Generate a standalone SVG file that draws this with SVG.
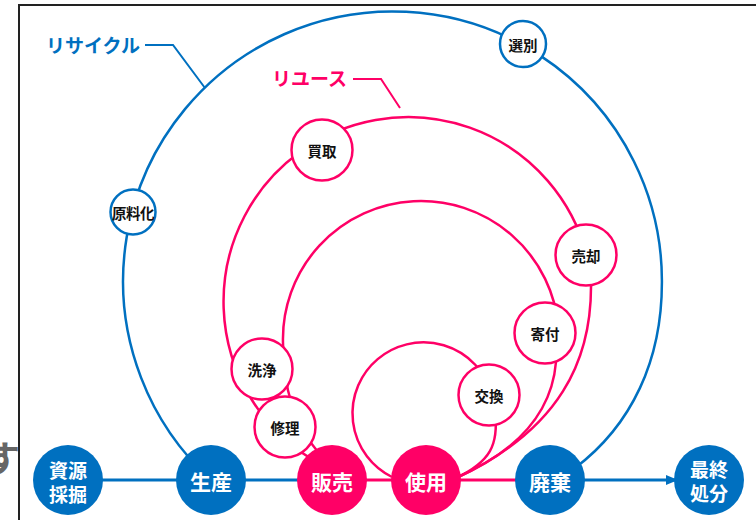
<svg xmlns="http://www.w3.org/2000/svg" width="756" height="520" viewBox="0 0 756 520">
<defs>
<marker id="arr" viewBox="0 0 12 10" markerWidth="12" markerHeight="10" refX="12" refY="5" orient="auto" markerUnits="userSpaceOnUse"><path d="M0,0 L12,5 L0,10 z" fill="#0070c0"/></marker>
</defs>
<style>
.b{fill:none;stroke:#0070c0;stroke-width:2.5}
.p{fill:none;stroke:#ff0066;stroke-width:2.5}
.bl{stroke:#0070c0;stroke-width:3}
.pl{stroke:#ff0066;stroke-width:3}
.nb{fill:#fff;stroke:#0070c0;stroke-width:2.5}
.np{fill:#fff;stroke:#ff0066;stroke-width:2.5}
.fb{fill:#0070c0}
.fp{fill:#ff0066}
text{font-family:"Noto Sans CJK JP","Noto Sans",sans-serif;font-weight:bold;text-anchor:middle;dominant-baseline:central}
.s{font-size:14.5px;fill:#111}
.w{font-size:21px;fill:#fff}
.w2{font-size:19px;fill:#fff}
.lb{font-size:19px;fill:#0070c0;text-anchor:start}
.lp{font-size:19px;fill:#ff0066;text-anchor:start}
</style>
<rect width="756" height="520" fill="#fff"/>
<text x="-16" y="456" style="font-size:36px;fill:#666;text-anchor:start">す</text>
<path d="M19,520 L19,5 L756,5" fill="none" stroke="#222" stroke-width="2"/>

<g id="labels">
<text class="lb" x="46" y="44">リサイクル</text>
<path d="M145,45 L173,45 L205,88" fill="none" stroke="#0070c0" stroke-width="2"/>
<text class="lp" x="272" y="77">リユース</text>
<path d="M353,79 L381,79 L400,108" fill="none" stroke="#ff0066" stroke-width="2"/>
</g>

<g id="connectors">
<path class="b" d="M211,480 A269.4,269.4 0 1 1 661.9,282 C662,360 632,425 575,468"/>
<path class="p" d="M310,458 A184.6,184.6 0 1 1 586.7,254.8"/>
<path class="p" d="M591,283 C592,360 560,430 456,478"/>
<path class="p" d="M318,452 C295,425 283,390 283,343 A138,138 0 0 1 558.5,328"/>
<path class="p" d="M556,362 C552,410 520,450 456,478"/>
<path class="p" d="M392,477 A71,71 0 1 1 491.5,393"/>
<path class="p" d="M495,412 C499,445 490,462 456,478"/>
<line class="bl" x1="68" y1="480" x2="332" y2="480"/>
<line class="pl" x1="332" y1="480" x2="550" y2="480"/>
<line class="bl" x1="550" y1="480" x2="678" y2="480" marker-end="url(#arr)"/>
</g>

<g id="n-genryouka"><circle class="nb" cx="133" cy="212" r="22.5"/><text class="s" x="133" y="212" style="letter-spacing:-0.5px">原料化</text></g>
<g id="n-senbetsu"><circle class="nb" cx="523" cy="44" r="23"/><text class="s" x="523" y="44">選別</text></g>
<g id="n-kaitori"><circle class="np" cx="322" cy="150" r="30.5"/><text class="s" x="322" y="150">買取</text></g>
<g id="n-baikyaku"><circle class="np" cx="586" cy="255" r="30.5"/><text class="s" x="586" y="255">売却</text></g>
<g id="n-kifu"><circle class="np" cx="545" cy="333" r="30.5"/><text class="s" x="545" y="333">寄付</text></g>
<g id="n-koukan"><circle class="np" cx="489" cy="395" r="30.5"/><text class="s" x="489" y="395">交換</text></g>
<g id="n-senjou"><circle class="np" cx="262" cy="369" r="30.5"/><text class="s" x="262" y="369">洗浄</text></g>
<g id="n-shuuri"><circle class="np" cx="285" cy="427" r="30.5"/><text class="s" x="285" y="427">修理</text></g>

<g id="n-shigen"><circle class="fb" cx="68" cy="480" r="35"/><text class="w2" x="68" y="469">資源</text><text class="w2" x="68" y="493">採掘</text></g>
<g id="n-seisan"><circle class="fb" cx="211" cy="480" r="35"/><text class="w" x="211" y="481">生産</text></g>
<g id="n-hanbai"><circle class="fp" cx="332" cy="480" r="35"/><text class="w" x="332" y="481">販売</text></g>
<g id="n-shiyou"><circle class="fp" cx="426" cy="480" r="35"/><text class="w" x="426" y="481">使用</text></g>
<g id="n-haiki"><circle class="fb" cx="550" cy="480" r="35"/><text class="w" x="550" y="481">廃棄</text></g>
<g id="n-saishuu"><circle class="fb" cx="709" cy="480" r="35"/><text class="w2" x="709" y="468">最終</text><text class="w2" x="709" y="492">処分</text></g>
</svg>
